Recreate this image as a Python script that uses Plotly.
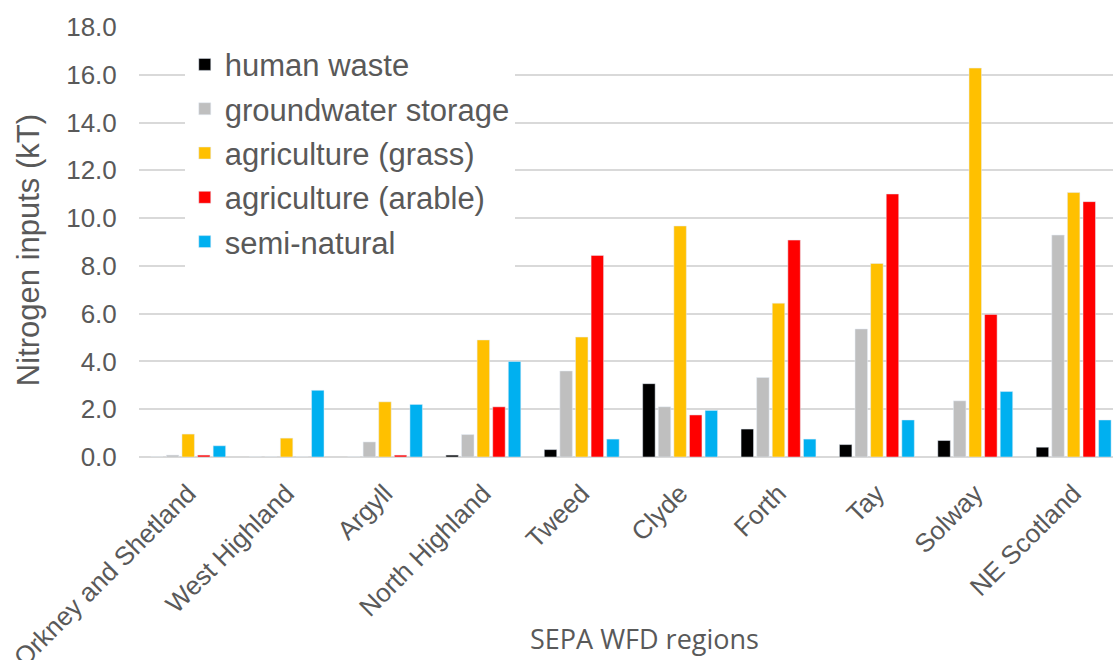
import plotly.graph_objects as go

categories = ["Orkney and Shetland", "West Highland", "Argyll", "North Highland", "Tweed",
              "Clyde", "Forth", "Tay", "Solway", "NE Scotland"]
human_waste = [0.0, 0.0, 0.0, 0.08, 0.31, 3.07, 1.17, 0.52, 0.69, 0.41]
groundwater_storage = [0.08, 0.0, 0.63, 0.94, 3.6, 2.1, 3.33, 5.36, 2.35, 9.29]
agri_grass = [0.96, 0.79, 2.31, 4.9, 5.02, 9.67, 6.44, 8.1, 16.28, 11.07]
agri_arable = [0.08, 0.0, 0.08, 2.1, 8.44, 1.76, 9.08, 11.01, 5.97, 10.69]
semi_natural = [0.47, 2.79, 2.2, 4.0, 0.75, 1.95, 0.75, 1.55, 2.74, 1.55]

series = [
    ("human waste", human_waste, "#000000"),
    ("groundwater storage", groundwater_storage, "#BFBFBF"),
    ("agriculture (grass)", agri_grass, "#FFC000"),
    ("agriculture (arable)", agri_arable, "#FF0000"),
    ("semi-natural", semi_natural, "#00B0F0"),
]

TXT = "#595959"
fig = go.Figure()
for i, (name, vals, col) in enumerate(series):
    fig.add_trace(go.Bar(x=categories, y=vals, name=name, marker_color=col,
                         legendgroup=f"g{i}"))

fig.update_layout(
    width=1113, height=660,
    margin=dict(l=139, r=0, t=27, b=203),
    paper_bgcolor="white", plot_bgcolor="white",
    barmode="group", bargap=0.207, bargroupgap=0.2,
    font=dict(family="Liberation Sans, Arial, sans-serif", color=TXT),
    legend=dict(x=0.047, y=0.975, xanchor="left", yanchor="top",
                bgcolor="white", font=dict(size=31, color=TXT),
                tracegroupgap=1, itemclick=False),
    xaxis=dict(type="category", range=[-0.5, 9.4], tickangle=-45,
               tickfont=dict(size=26, color=TXT), showgrid=False,
               ticks="outside", ticklen=10, tickcolor="rgba(0,0,0,0)",
               showline=False, automargin=False),
    yaxis=dict(range=[0, 18], dtick=2, tickformat=".1f",
               tickfont=dict(size=26, color=TXT),
               showgrid=True, gridcolor="#D9D9D9", gridwidth=1.5,
               zeroline=True, zerolinecolor="#D9D9D9", zerolinewidth=1.5,
               ticks="outside", ticklen=16, tickcolor="rgba(0,0,0,0)",
               automargin=False),
    annotations=[
        dict(text="Nitrogen inputs (kT)", xref="paper", yref="paper",
             x=-0.114, y=0.481, xanchor="center", yanchor="middle",
             textangle=-90, showarrow=False,
             font=dict(size=31, color=TXT, family="Liberation Sans, Arial, sans-serif")),
        dict(text="SEPA WFD regions", xref="paper", yref="paper",
             x=0.5195, y=-0.421, xanchor="center", yanchor="middle",
             showarrow=False,
             font=dict(size=27, color=TXT, family="Open Sans, sans-serif")),
    ],
)

fig.write_html("out.html", config={"displayModeBar": False},
               post_script="document.body.style.margin='0px';")
